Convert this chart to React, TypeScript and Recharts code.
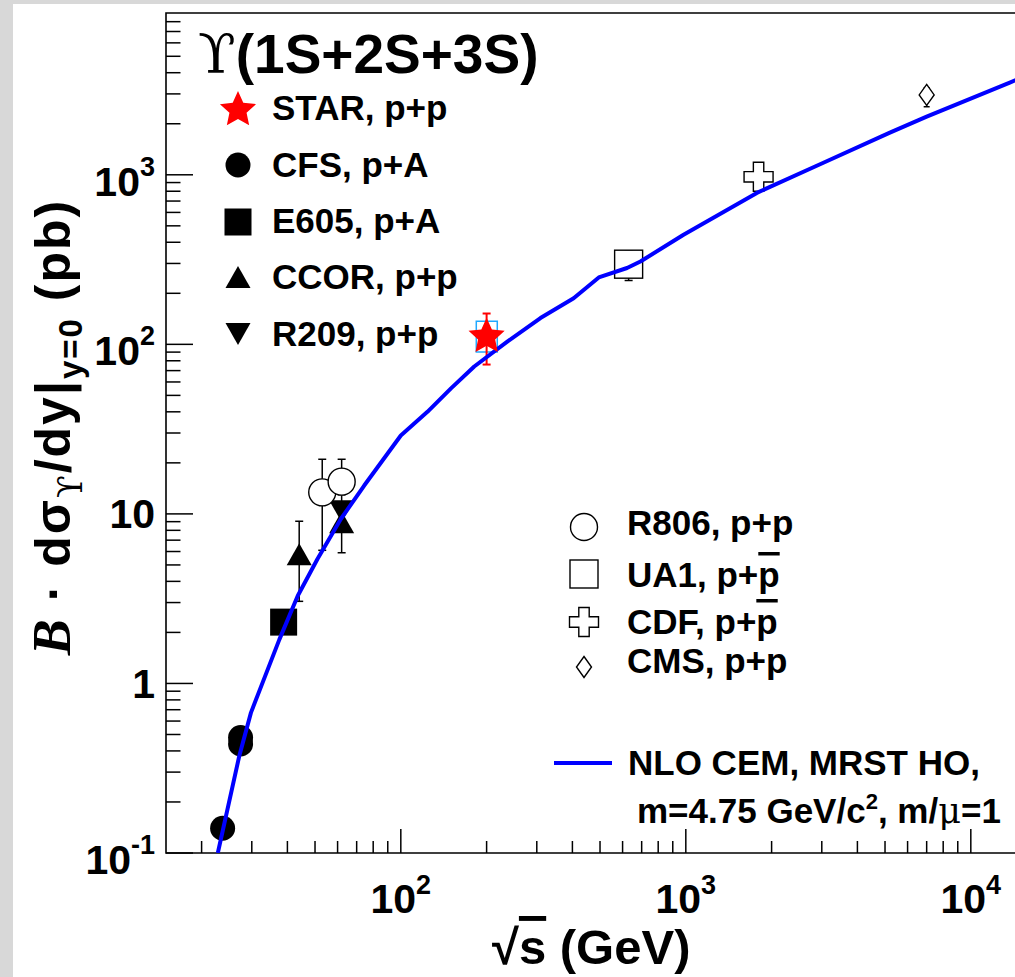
import React from "react";
import { ComposedChart, Line, Scatter, XAxis, YAxis, ErrorBar, ReferenceArea } from "recharts";

const FONT = "'Liberation Sans', Arial, Helvetica, sans-serif";
const SERIF = "'DejaVu Serif', 'Liberation Serif', serif";

// axis ranges (sqrt(s) in GeV, cross section in pb)
const X_MIN = 15;
const X_MAX = 15000;
const Y_MIN = 0.1;
const Y_MAX = 9000;

const X_TICKS = [
  20, 30, 40, 50, 60, 70, 80, 90, 100,
  200, 300, 400, 500, 600, 700, 800, 900, 1000,
  2000, 3000, 4000, 5000, 6000, 7000, 8000, 9000, 10000,
];
const X_LABELS: Record<number, string> = { 100: "2", 1000: "3", 10000: "4" };

const Y_TICKS = [
  0.1, 0.2, 0.3, 0.4, 0.5, 0.6, 0.7, 0.8, 0.9,
  1, 2, 3, 4, 5, 6, 7, 8, 9,
  10, 20, 30, 40, 50, 60, 70, 80, 90,
  100, 200, 300, 400, 500, 600, 700, 800, 900,
  1000, 2000, 3000, 4000, 5000, 6000, 7000, 8000,
];
const Y_LABELS = [
  { v: 0.1, base: "10", exp: "-1" },
  { v: 1, base: "1", exp: "" },
  { v: 10, base: "10", exp: "" },
  { v: 100, base: "10", exp: "2" },
  { v: 1000, base: "10", exp: "3" },
];

// measurements: x = sqrt(s), y = B dsigma/dy, err = [down, up]
const STAR = [{ x: 200, y: 114, err: [38, 38] }];
const STAR_SYS_Y = [90, 137];
const STAR_SYS_X = [184, 218];
const CFS = [
  { x: 23.7, y: 0.14 },
  { x: 27.4, y: 0.44 },
  { x: 27.4, y: 0.48 },
];
const E605 = [{ x: 38.8, y: 2.3 }];
const CCOR = [
  { x: 44, y: 5.7, err: [2.65, 3.35] },
  { x: 62, y: 8.8, err: [2.9, 1.5] },
];
const R209 = [{ x: 62, y: 10.5, err: [2, 3.6] }];
const R806 = [
  { x: 53, y: 13.4, err: [7.3, 7.6] },
  { x: 62, y: 15.5, err: [2.5, 5.5] },
];
const UA1 = [{ x: 630, y: 297, err: [59, 59] }];
const CDF = [{ x: 1800, y: 973, err: [160, 160] }];
const CMS = [{ x: 7000, y: 2960, err: [440, 300] }];

// NLO CEM, MRST HO curve
const NLO = [
  { x: 22.8, y: 0.1 },
  { x: 27.1, y: 0.372 },
  { x: 29.8, y: 0.673 },
  { x: 37.5, y: 1.82 },
  { x: 43.5, y: 3.29 },
  { x: 51, y: 5.42 },
  { x: 61.6, y: 9.33 },
  { x: 74.4, y: 14.7 },
  { x: 100, y: 29 },
  { x: 124, y: 40 },
  { x: 150, y: 55 },
  { x: 181, y: 74 },
  { x: 237, y: 104 },
  { x: 309, y: 143 },
  { x: 404, y: 187 },
  { x: 495, y: 248 },
  { x: 622, y: 282 },
  { x: 693, y: 308 },
  { x: 982, y: 443 },
  { x: 1775, y: 782 },
  { x: 3039, y: 1178 },
  { x: 5200, y: 1773 },
  { x: 7000, y: 2203 },
  { x: 13700, y: 3500 },
  { x: 15000, y: 3730 },
];

function starPoints(cx: number, cy: number, ro: number, ri: number) {
  const pts: string[] = [];
  for (let i = 0; i < 10; i++) {
    const r = i % 2 === 0 ? ro : ri;
    const a = -Math.PI / 2 + (i * Math.PI) / 5;
    pts.push(`${cx + r * Math.cos(a)},${cy + r * Math.sin(a)}`);
  }
  return pts.join(" ");
}

function Marker({ kind, cx, cy }: { kind: string; cx: number; cy: number }) {
  const sw = 1.4;
  switch (kind) {
    case "star":
      return <polygon points={starPoints(cx, cy + 2, 19, 9)} fill="#ff0000" />;
    case "circle":
      return <circle cx={cx} cy={cy} r={12.5} fill="#000" />;
    case "square":
      return <rect x={cx - 13.5} y={cy - 13.5} width={27} height={27} fill="#000" />;
    case "triUp":
      return <polygon points={`${cx},${cy - 12} ${cx + 12.5},${cy + 10} ${cx - 12.5},${cy + 10}`} fill="#000" />;
    case "triDown":
      return <polygon points={`${cx},${cy + 12} ${cx + 12.5},${cy - 10} ${cx - 12.5},${cy - 10}`} fill="#000" />;
    case "openCircle":
      return <circle cx={cx} cy={cy} r={13.5} fill="#fff" stroke="#000" strokeWidth={sw} />;
    case "openSquare":
      return <rect x={cx - 14} y={cy - 14} width={28} height={28} fill="#fff" stroke="#000" strokeWidth={sw} />;
    case "openCross": {
      const a = 14.5;
      const b = 5.2;
      const d = `M${cx - b},${cy - a} H${cx + b} V${cy - b} H${cx + a} V${cy + b} H${cx + b} V${cy + a} H${cx - b} V${cy + b} H${cx - a} V${cy - b} H${cx - b} Z`;
      return <path d={d} fill="#fff" stroke="#000" strokeWidth={sw} />;
    }
    case "openDiamond":
      return (
        <polygon
          points={`${cx},${cy - 10.5} ${cx + 7.5},${cy} ${cx},${cy + 10.5} ${cx - 7.5},${cy}`}
          fill="#fff"
          stroke="#000"
          strokeWidth={sw}
        />
      );
    default:
      return null;
  }
}

const shapeOf = (kind: string) => (p: any) => <Marker kind={kind} cx={p.cx} cy={p.cy} />;

function XTick(props: any) {
  const { x, y, payload } = props;
  const exp = X_LABELS[payload.value];
  const major = exp !== undefined;
  return (
    <g>
      <line x1={x} x2={x} y1={y} y2={y - (major ? 24 : 12)} stroke="#000" strokeWidth={1.5} />
      {major && (
        <text x={x} y={y + 60} textAnchor="middle" fontFamily={FONT} fontWeight="bold" fontSize={41} fill="#000">
          10
          <tspan fontSize={27} dy={-19}>
            {exp}
          </tspan>
        </text>
      )}
    </g>
  );
}

function YTick(props: any) {
  const { x, y, payload } = props;
  const lab = Y_LABELS.find((l) => l.v === payload.value);
  return (
    <g>
      <line x1={x} x2={x + (lab ? 27 : 14.5)} y1={y} y2={y} stroke="#000" strokeWidth={1.5} />
      {lab && (
        <text
          x={x - 11}
          y={y + (lab.exp ? 21 : 14.5)}
          textAnchor="end"
          fontFamily={FONT}
          fontWeight="bold"
          fontSize={41}
          fill="#000"
        >
          {lab.base}
          {lab.exp && (
            <tspan fontSize={27} dy={-20}>
              {lab.exp}
            </tspan>
          )}
        </text>
      )}
    </g>
  );
}

const LEFT_LEGEND = [
  { kind: "star", label: "STAR, p+p", cy: 108, base: 120 },
  { kind: "circle", label: "CFS, p+A", cy: 165, base: 177 },
  { kind: "square", label: "E605, p+A", cy: 222, base: 233 },
  { kind: "triUp", label: "CCOR, p+p", cy: 278, base: 289 },
  { kind: "triDown", label: "R209, p+p", cy: 333, base: 346 },
];
const RIGHT_LEGEND = [
  { kind: "openCircle", label: "R806, p+p", bar: false, cy: 527, base: 535 },
  { kind: "openSquare", label: "UA1, p+", bar: true, cy: 574, base: 587 },
  { kind: "openCross", label: "CDF, p+", bar: true, cy: 622, base: 634 },
  { kind: "openDiamond", label: "CMS, p+p", bar: false, cy: 667, base: 673 },
];

function Overlay() {
  const txt = { fontFamily: FONT, fontWeight: 700, fontSize: 35, fill: "#000" } as const;
  return (
    <svg width={1015} height={977} style={{ position: "absolute", left: 0, top: 0, pointerEvents: "none" }}>
      <text x={198} y={73} {...txt} fontSize={55}>
        <tspan fontFamily={SERIF} fontWeight={400}>
          ϒ
        </tspan>
        <tspan>(1S+2S+3S)</tspan>
      </text>
      {LEFT_LEGEND.map((e) => (
        <g key={e.label}>
          <Marker kind={e.kind} cx={238} cy={e.cy} />
          <text x={272} y={e.base} {...txt}>
            {e.label}
          </text>
        </g>
      ))}
      {RIGHT_LEGEND.map((e) => (
        <g key={e.label}>
          <Marker kind={e.kind} cx={584} cy={e.cy} />
          <text x={627} y={e.base} {...txt}>
            {e.label}
            {e.bar && <tspan style={{ textDecoration: "overline" }}>p</tspan>}
          </text>
        </g>
      ))}
      <line x1={554} x2={612} y1={763} y2={763} stroke="#0000ff" strokeWidth={4} />
      <text x={628} y={775} {...txt}>
        NLO CEM, MRST HO,
      </text>
      <text x={637} y={823} {...txt}>
        m=4.75 GeV/c
        <tspan fontSize={22} dy={-14}>
          2
        </tspan>
        <tspan dy={14}>, m/</tspan>
        <tspan fontFamily={SERIF} fontWeight={400}>
          μ
        </tspan>
        <tspan>=1</tspan>
      </text>
      {/* y axis title */}
      <text
        transform="translate(70,427) rotate(-90)"
        textAnchor="middle"
        {...txt}
        fontSize={50}
        letterSpacing={2}
      >
        <tspan fontFamily="'Liberation Serif', serif" fontStyle="italic" fontSize={54}>
          B
        </tspan>
        <tspan> · dσ</tspan>
        <tspan fontFamily={SERIF} fontWeight={400} fontSize={33} dy={12}>
          ϒ
        </tspan>
        <tspan dy={-12}>/dy|</tspan>
        <tspan fontSize={33} dy={12}>
          y=0
        </tspan>
        <tspan dy={-12}> (pb)</tspan>
      </text>
      {/* x axis title */}
      <text x={492} y={964} {...txt} fontSize={49}>
        √<tspan style={{ textDecoration: "overline" }}>s</tspan> (GeV)
      </text>
    </svg>
  );
}

export default function App() {
  return (
    <div
      style={{
        position: "absolute",
        left: 0,
        top: 0,
        width: 1015,
        height: 977,
        overflow: "hidden",
        background: "#d8d8d8",
      }}
    >
      <div style={{ position: "absolute", left: 13, top: 4, right: 0, bottom: 0, background: "#fff" }} />
      <div style={{ position: "absolute", left: 0, top: 0 }}>
        <ComposedChart width={1030} height={977} margin={{ top: 13, right: 9, left: 0, bottom: 0 }}>
          <XAxis
            type="number"
            dataKey="x"
            scale="log"
            domain={[X_MIN, X_MAX]}
            allowDataOverflow
            ticks={X_TICKS}
            interval={0}
            height={124}
            axisLine={false}
            tickLine={false}
            tickSize={0}
            tickMargin={0}
            tick={<XTick />}
          />
          <YAxis
            type="number"
            dataKey="y"
            scale="log"
            domain={[Y_MIN, Y_MAX]}
            allowDataOverflow
            ticks={Y_TICKS}
            interval={0}
            width={166}
            axisLine={false}
            tickLine={false}
            tickSize={0}
            tickMargin={0}
            tick={<YTick />}
          />
          <ReferenceArea
            x1={X_MIN}
            x2={X_MAX}
            y1={Y_MIN}
            y2={Y_MAX}
            fill="none"
            stroke="#000"
            strokeWidth={1.6}
            ifOverflow="visible"
          />
          <ReferenceArea
            x1={STAR_SYS_X[0]}
            x2={STAR_SYS_X[1]}
            y1={STAR_SYS_Y[0]}
            y2={STAR_SYS_Y[1]}
            fill="none"
            stroke="#20a8ff"
            strokeWidth={1.5}
          />
          <Scatter data={CFS} shape={shapeOf("circle")} isAnimationActive={false} />
          <Scatter data={E605} shape={shapeOf("square")} isAnimationActive={false} />
          <Scatter data={CCOR} shape={shapeOf("triUp")} isAnimationActive={false}>
            <ErrorBar dataKey="err" direction="y" width={4} stroke="#000" strokeWidth={1.5} />
          </Scatter>
          <Scatter data={R209} shape={shapeOf("triDown")} isAnimationActive={false}>
            <ErrorBar dataKey="err" direction="y" width={4} stroke="#000" strokeWidth={1.5} />
          </Scatter>
          <Scatter data={R806} shape={shapeOf("openCircle")} isAnimationActive={false}>
            <ErrorBar dataKey="err" direction="y" width={4} stroke="#000" strokeWidth={1.5} />
          </Scatter>
          <Scatter data={UA1} shape={shapeOf("openSquare")} isAnimationActive={false}>
            <ErrorBar dataKey="err" direction="y" width={4} stroke="#000" strokeWidth={1.5} />
          </Scatter>
          <Scatter data={CDF} shape={shapeOf("openCross")} isAnimationActive={false}>
            <ErrorBar dataKey="err" direction="y" width={4} stroke="#000" strokeWidth={1.5} />
          </Scatter>
          <Scatter data={CMS} shape={shapeOf("openDiamond")} isAnimationActive={false}>
            <ErrorBar dataKey="err" direction="y" width={3} stroke="#000" strokeWidth={1.5} />
          </Scatter>
          <Line
            data={NLO}
            dataKey="y"
            type="linear"
            stroke="#0000ff"
            strokeWidth={4}
            strokeLinejoin="round"
            dot={false}
            activeDot={false}
            isAnimationActive={false}
            zIndex={650}
          />
          <Scatter data={STAR} shape={shapeOf("star")} isAnimationActive={false} zIndex={700}>
            <ErrorBar dataKey="err" direction="y" width={4} stroke="#ff0000" strokeWidth={2} />
          </Scatter>
        </ComposedChart>
      </div>
      <Overlay />
    </div>
  );
}
